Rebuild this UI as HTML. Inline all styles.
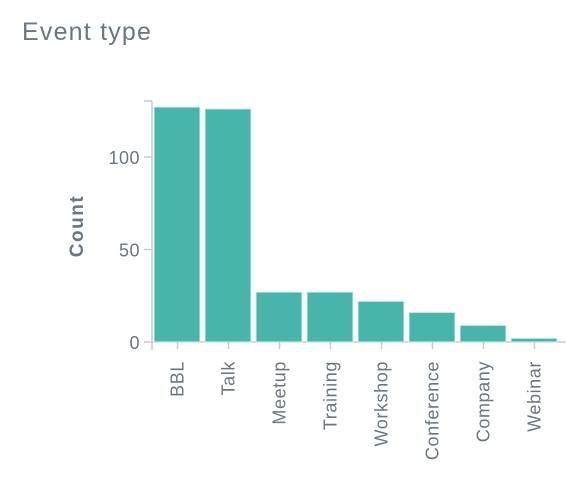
<!DOCTYPE html>
<html><head><meta charset="utf-8"><style>
body{margin:0;background:#fff;}
svg{display:block;font-family:"Liberation Sans",sans-serif;}
</style></head><body>
<svg width="566" height="488">
<text x="22" y="40" font-size="25" letter-spacing="1.2" fill="#6b7780">Event type</text>
<g id="plot"></g>
</svg>
<script>
const categories=["BBL","Talk","Meetup","Training","Workshop","Conference","Company","Webinar"];
const counts=[127,126,27,27,22,16,9,2];
const yTicks=[0,50,100];
const ns="http://www.w3.org/2000/svg";
const g=document.getElementById('plot');
const x0=152,step=51,y0=342,yScale=1.85;
const y=v=>y0-v*yScale;
const xb=i=>x0+i*step;
function mk(t,a){const e=document.createElementNS(ns,t);for(const k in a)e.setAttribute(k,a[k]);g.appendChild(e);return e;}
let ax=mk('line',{x1:x0,y1:101,x2:x0,y2:y0,stroke:'#ccc','stroke-width':1.5});


let tt=mk('line',{x1:x0-8,y1:101,x2:x0,y2:101,stroke:'#ccc','stroke-width':1.5});


yTicks.forEach(v=>{
 const l=mk('line',{x1:x0-8,y1:y(v),x2:x0,y2:y(v),stroke:'#ccc','stroke-width':1.5});
 
 
 const t=mk('text',{x:x0-12,y:y(v)+7,'text-anchor':'end','font-size':18,'letter-spacing':0.5,fill:'#6b7780'});
 t.textContent=v;
 
 
});
const yt=mk('text',{transform:'translate(83,226) rotate(-90)','text-anchor':'middle','font-size':19,'font-weight':'bold','letter-spacing':1.5,fill:'#6b7780'});
yt.textContent='Count';


const xa=mk('line',{x1:x0,y1:y0,x2:565,y2:y0,stroke:'#ccc','stroke-width':1.5});


const xs=mk('line',{x1:x0,y1:y0,x2:x0,y2:y0+8,stroke:'#ccc','stroke-width':1.5});


categories.forEach((c,i)=>{
 const b=mk('rect',{x:xb(i)+2,y:y(counts[i]),width:46,height:counts[i]*yScale,fill:'#48b5aa',stroke:'#d6f0ec','stroke-width':1});
 
 
 const cx=xb(i)+25.5;
 const tk=mk('line',{x1:cx,y1:y0,x2:cx,y2:y0+7,stroke:'#ccc','stroke-width':1.5});
 
 
 const t=mk('text',{transform:`translate(${cx+6},361) rotate(-90)`,'text-anchor':'end','font-size':18,'letter-spacing':0.6,fill:'#6b7780'});
 t.textContent=c;
 
 
});
</script>
</body></html>
